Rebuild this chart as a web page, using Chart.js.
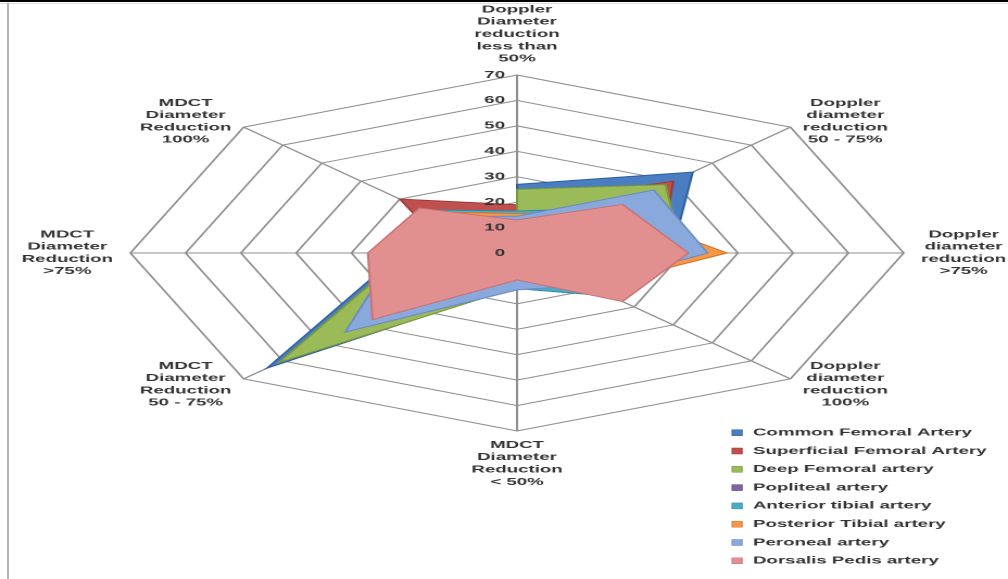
<!DOCTYPE html>
<html>
<head>
<meta charset="utf-8">
<script src="https://cdn.jsdelivr.net/npm/chart.js@4.4.1/dist/chart.umd.min.js"></script>
<style>
html, body { margin: 0; padding: 0; background: #fff; overflow: hidden; }
#wrap { position: absolute; left: 0; top: 0; width: 464px; height: 579px; transform: scaleX(2.1724); transform-origin: 0 0; }
#topline { position: absolute; left: 0; top: 0; width: 1008px; height: 2px; background: #000; }
#topline2 { position: absolute; left: 0; top: 3px; width: 1008px; height: 1px; background: #ddd; }
#leftline { position: absolute; left: 7px; top: 3px; width: 2px; height: 576px; background: #b4b4b4; }
</style>
</head>
<body>
<div id="wrap"><canvas id="result"></canvas></div>
<div id="topline"></div>
<div id="topline2"></div>
<div id="leftline"></div>
<script>
// axis order: clockwise from the top
const categories = [
    ['Doppler', 'Diameter', 'reduction', 'less than', '50%'],
    ['Doppler', 'diameter', 'reduction', '50 - 75%'],
    ['Doppler', 'diameter', 'reduction', '>75%'],
    ['Doppler', 'diameter', 'reduction', '100%'],
    ['MDCT', 'Diameter', 'Reduction', '< 50%'],
    ['MDCT', 'Diameter', 'Reduction', '50 - 75%'],
    ['MDCT', 'Diameter', 'Reduction', '>75%'],
    ['MDCT', 'Diameter', 'Reduction', '100%']
];

const seriesNames = [
    'Common Femoral Artery',
    'Superficial Femoral Artery',
    'Deep Femoral artery',
    'Popliteal artery',
    'Anterior tibial artery',
    'Posterior Tibial artery',
    'Peroneal artery',
    'Dorsalis Pedis artery'
];

const commonFemoral      = [27, 45, 28, 18, 13, 64, 21, 0];
const superficialFemoral = [19, 40, 26, 15, 8, 20, 12, 30];
const deepFemoral        = [25, 38, 30, 16, 13.5, 61, 20, 0];
const popliteal          = [10, 20, 20, 12, 8, 20, 15, 12];
const anteriorTibial     = [16.5, 25, 25, 24, 14, 25, 20, 24];
const posteriorTibial    = [15.5, 24, 38, 19, 13, 25, 20, 23];
const peroneal           = [14.5, 35, 34.5, 18, 14.5, 44, 22, 20];
const dorsalisPedis      = [13, 27, 31, 27, 10.6, 37, 27, 25];

const tickValues = [0, 10, 20, 30, 40, 50, 60, 70];

const fills   = ['#4A7EC0', '#C0504D', '#9BBB59', '#8064A2', '#4BACC6', '#F79646', '#89A8DC', '#E28F90'];
const borders = ['#2F5F9E', '#9E3A38', '#7A9A3A', '#634A85', '#2E8CA6', '#D4772A', '#6D8CC4', '#C87476'];

const allSeries = [commonFemoral, superficialFemoral, deepFemoral, popliteal,
                   anteriorTibial, posteriorTibial, peroneal, dorsalisPedis];

const textColor = '#333';
const squeeze = 0.86;
const lineH = 12.3;
const font = 'bold 10px "Liberation Sans", Arial, sans-serif';

function squeezedText(ctx, text, x, y, align) {
    ctx.save();
    ctx.translate(x, y);
    ctx.scale(squeeze, 1);
    ctx.textAlign = align;
    ctx.fillText(text, 0, 0);
    ctx.restore();
}

const excelLabels = {
    id: 'excelLabels',
    afterDatasetsDraw(chart) {
        const r = chart.scales.r;
        const ctx = chart.ctx;
        ctx.save();
        ctx.fillStyle = textColor;
        ctx.font = font;
        ctx.textBaseline = 'middle';

        // axis titles
        categories.forEach((lines, i) => {
            const p = r.getPointPosition(i, r.drawingArea + 8);
            const dx = p.x - r.xCenter;
            const dy = p.y - r.yCenter;
            const w = Math.max(...lines.map(l => ctx.measureText(l).width)) * squeeze;
            const h = lines.length * lineH;
            let cx = p.x;
            let top = p.y - h / 2;
            if (dx > 1) cx = p.x + w / 2;
            else if (dx < -1) cx = p.x - w / 2;
            if (Math.abs(dx) <= 1) top = dy < 0 ? p.y - h - 2 : p.y;
            lines.forEach((l, k) => squeezedText(ctx, l, cx, top + lineH * (k + 0.5), 'center'));
        });

        // tick labels on the left of the vertical axis
        tickValues.forEach(v => {
            const y = r.yCenter - r.getDistanceFromCenterForValue(v);
            squeezedText(ctx, String(v), r.xCenter - 5.5, y, 'right');
        });

        // legend
        chart.data.datasets.forEach((ds, k) => {
            const y = 432.7 + 18.3 * k;
            ctx.fillStyle = ds.backgroundColor;
            ctx.fillRect(337, y - 3, 4.6, 6);
            ctx.strokeStyle = ds.borderColor;
            ctx.lineWidth = 0.5;
            ctx.strokeRect(337, y - 3, 4.6, 6);
            ctx.fillStyle = textColor;
            squeezedText(ctx, ds.label, 346.6, y, 'left');
        });
        ctx.restore();
    }
};

const data = {
    labels: categories.map(c => c.join(' ')),
    datasets: allSeries.map((values, i) => ({
        label: seriesNames[i],
        data: values,
        fill: true,
        backgroundColor: fills[i],
        borderColor: borders[i],
        borderWidth: 1,
        pointRadius: 0,
        order: allSeries.length - 1 - i
    }))
};

const options = {
    responsive: true,
    maintainAspectRatio: false,
    animation: false,
    devicePixelRatio: 2,
    layout: { padding: { left: 60, right: 48, top: 75, bottom: 148 } },
    plugins: {
        legend: { display: false },
        tooltip: { enabled: false }
    },
    elements: { line: { tension: 0 } },
    scales: {
        r: {
            min: 0,
            max: 70,
            ticks: { display: false, stepSize: 10 },
            pointLabels: { display: false },
            grid: { color: '#8f8f8f', lineWidth: 1 },
            angleLines: { color: '#8f8f8f', lineWidth: 1 }
        }
    }
};

function mountChart () {
    let ctx = document.getElementById('result').getContext('2d');
    new Chart(ctx, { type: 'radar', data, options, plugins: [excelLabels] });
}

mountChart();
</script>
</body>
</html>
